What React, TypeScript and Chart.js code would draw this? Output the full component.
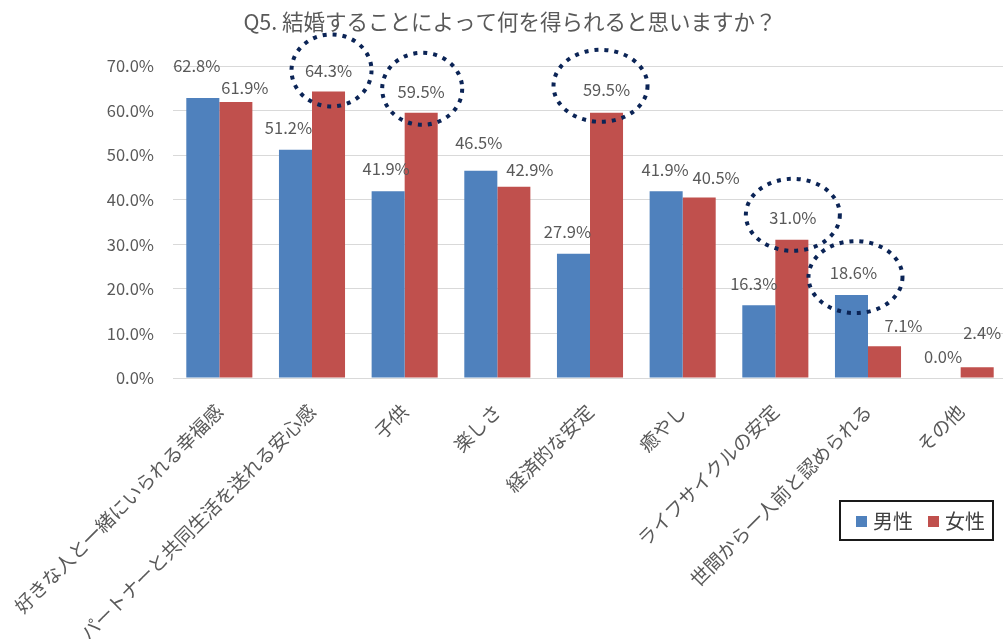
import React, { useEffect, useRef } from "react";
import { Chart, registerables } from "chart.js";

Chart.register(...registerables);

const titleText = "Q5. 結婚することによって何を得られると思いますか？";
const categories = [
  "好きな人と一緒にいられる幸福感",
  "パートナーと共同生活を送れる安心感",
  "子供",
  "楽しさ",
  "経済的な安定",
  "癒やし",
  "ライフサイクルの安定",
  "世間から一人前と認められる",
  "その他",
];
const seriesNames = ["男性", "女性"];
const maleValues = [62.8, 51.2, 41.9, 46.5, 27.9, 41.9, 16.3, 18.6, 0.0];
const femaleValues = [61.9, 64.3, 59.5, 42.9, 59.5, 40.5, 31.0, 7.1, 2.4];
const yMax = 70;
const yStep = 10;

// label placement (px offsets from bar top) — styling only
const maleLabelOffsets = [[-6, -32], [-7, -22], [-2, -23], [-2, -28], [-6, -22], [-1, -22], [-5, -22], [2, -22], [-1, -21]];
const femaleLabelOffsets = [[9, -14], [0, -21], [0, -21], [16, -17], [0, -23], [17, -20], [1, -22], [19, -21], [5, -35]];
// highlight ellipses: [datasetIndex, pointIndex, rx, ry, dx, dy]
const highlights = [
  [1, 1, 40, 36, 3, 0],
  [1, 2, 40, 36, 1, -3],
  [1, 4, 47, 36, -6, -4],
  [1, 6, 47, 36, 0, -3],
  [0, 7, 47, 36, 2, 4],
];

const COLORS = ["#4F81BD", "#C0504D"];
const TEXT = "#595959";
const FONT = "'Noto Sans CJK JP', 'Noto Sans', sans-serif";

const overlayPlugin = {
  id: "overlay",
  afterDatasetsDraw(chart: any) {
    const ctx = chart.ctx;
    ctx.save();
    ctx.font = `16.5px ${FONT}`;
    ctx.fillStyle = TEXT;
    ctx.textAlign = "center";
    ctx.textBaseline = "middle";
    const offsets = [maleLabelOffsets, femaleLabelOffsets];
    offsets.forEach((offs, di) => {
      const meta = chart.getDatasetMeta(di);
      meta.data.forEach((el: any, i: number) => {
        const v = chart.data.datasets[di].data[i] as number;
        ctx.fillText(v.toFixed(1) + "%", el.x + offs[i][0], el.y + offs[i][1]);
      });
    });
    ctx.strokeStyle = "#0B2456";
    ctx.lineWidth = 4;
    ctx.setLineDash([4, 6]);
    highlights.forEach(([di, i, rx, ry, dx, dy]) => {
      const el = chart.getDatasetMeta(di).data[i];
      const off = offsets[di][i];
      ctx.beginPath();
      ctx.ellipse(el.x + off[0] + dx, el.y + off[1] + dy, rx, ry, 0, 0, Math.PI * 2);
      ctx.stroke();
    });
    ctx.restore();
  },
  afterDraw(chart: any) {
    const ctx = chart.ctx;
    ctx.save();
    // title
    ctx.font = `21.5px ${FONT}`;
    ctx.fillStyle = TEXT;
    ctx.textAlign = "center";
    ctx.textBaseline = "middle";
    ctx.fillText(titleText, 510, 22);
    // legend
    const bx = 840, by = 501, bw = 153, bh = 39;
    ctx.lineWidth = 2;
    ctx.strokeStyle = "#1a1a1a";
    ctx.strokeRect(bx, by, bw, bh);
    ctx.font = `20px ${FONT}`;
    ctx.textAlign = "left";
    const items = chart.data.datasets;
    let x = bx + 16;
    items.forEach((ds: any) => {
      ctx.fillStyle = ds.backgroundColor;
      ctx.fillRect(x, by + 15, 11, 11);
      ctx.fillStyle = "#404040";
      ctx.fillText(ds.label, x + 17, by + 20);
      x += 72;
    });
    ctx.restore();
  },
};

export default function App() {
  const ref = useRef<HTMLCanvasElement>(null);
  useEffect(() => {
    if (!ref.current) return;
    const chart = new Chart(ref.current, {
      type: "bar",
      data: {
        labels: categories,
        datasets: [
          { label: seriesNames[0], data: maleValues, backgroundColor: COLORS[0] },
          { label: seriesNames[1], data: femaleValues, backgroundColor: COLORS[1] },
        ],
      },
      options: {
        responsive: false,
        animation: false,
        layout: { padding: { top: 66, right: 1, left: 0, bottom: 0 } },
        datasets: { bar: { categoryPercentage: 0.713, barPercentage: 1.0 } },
        plugins: {
          legend: { display: false },
          title: { display: false },
          tooltip: { enabled: false },
        },
        scales: {
          x: {
            grid: { display: false, drawTicks: false },
            border: { display: false },
            ticks: {
              autoSkip: false,
              minRotation: 45,
              maxRotation: 45,
              padding: 22,
              color: TEXT,
              font: { family: FONT, size: 19 },
            },
            afterFit: (s: any) => {
              s.height = 261;
              s.paddingLeft = 0;
              s.paddingRight = 0;
            },
          },
          y: {
            min: 0,
            max: yMax,
            grid: { color: "#D9D9D9", drawTicks: false },
            border: { display: false },
            ticks: {
              stepSize: yStep,
              padding: 19,
              color: TEXT,
              font: { family: FONT, size: 16.5 },
              callback: (v: any) => Number(v).toFixed(1) + "%",
            },
            afterFit: (s: any) => { s.width = 173; },
          },
        },
      },
      plugins: [overlayPlugin],
    });
    return () => chart.destroy();
  }, []);
  return (
    <div style={{ position: "absolute", left: 0, top: 0, width: 1003, height: 639, overflow: "hidden", background: "#fff" }}>
      <canvas ref={ref} width={1008} height={639} />
    </div>
  );
}
